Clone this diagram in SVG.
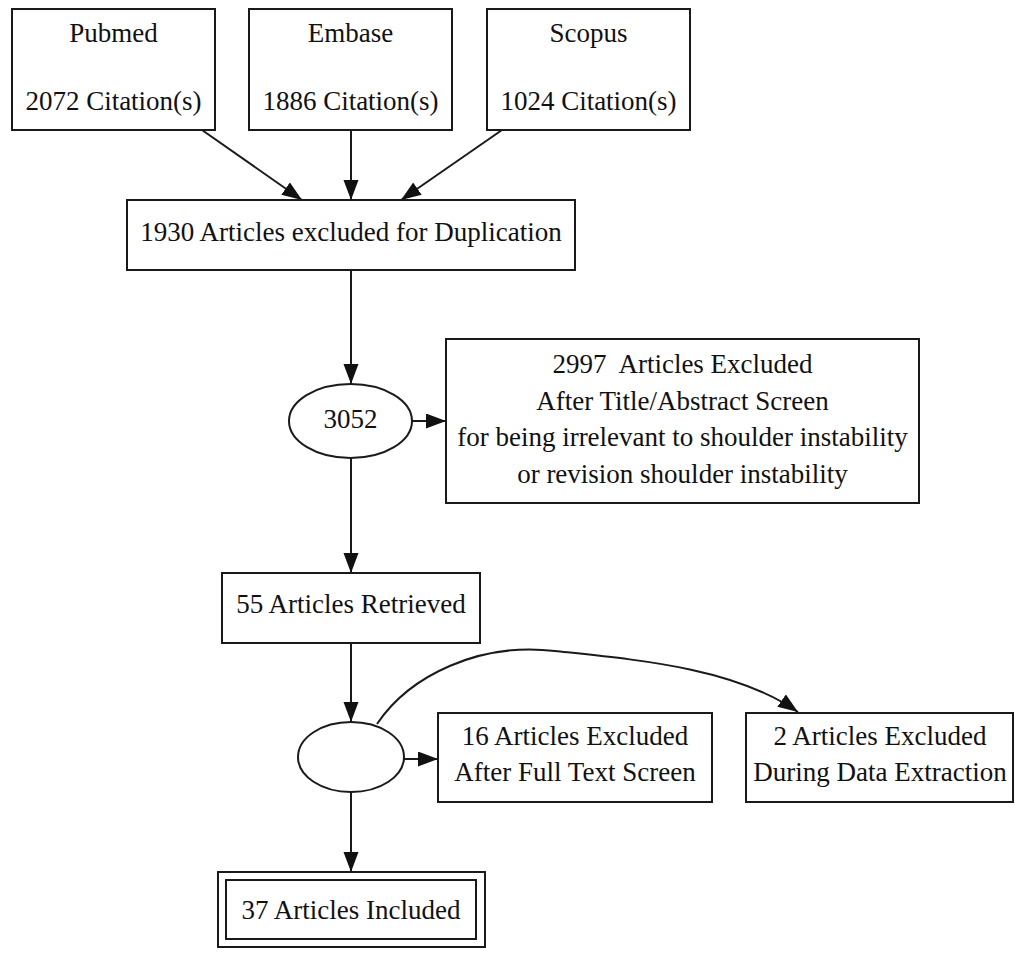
<svg xmlns="http://www.w3.org/2000/svg" width="1015" height="956" viewBox="0 0 1015 956">
<style>
.box{fill:#fff;stroke:#1a1a1a;stroke-width:2}
.lbl{font-family:"Liberation Serif","Times New Roman",serif;font-size:27px;fill:#111;text-anchor:middle}
.edge{fill:none;stroke:#1a1a1a;stroke-width:2;marker-end:url(#ah)}
</style>
<defs>
<marker id="ah" markerUnits="userSpaceOnUse" markerWidth="21" markerHeight="16" refX="20" refY="7.5" orient="auto">
<path d="M0,0 L20,7.5 L0,15 z" fill="#111"/>
</marker>
</defs>
<rect width="1015" height="956" fill="#fff"/>
<g id="connectors">
<path class="edge" d="M202,130 L302,200"/>
<path class="edge" d="M351,130 L351,200"/>
<path class="edge" d="M502,130 L401,200"/>
<path class="edge" d="M351,270 L351,384"/>
<path class="edge" d="M412,421 L446,421"/>
<path class="edge" d="M351,458 L351,573"/>
<path class="edge" d="M351,643 L351,722"/>
<path class="edge" d="M404,759 L438,759"/>
<path class="edge" d="M377,724 C410,675 480,642 555,651 C640,660 735,668 798,712"/>
<path class="edge" d="M351,792 L351,872"/>
</g>
<g id="pubmed">
<rect class="box" x="12" y="9" width="203" height="121"/>
<text class="lbl" x="113.5" y="42">Pubmed</text>
<text class="lbl" x="113.5" y="110">2072 Citation(s)</text>
</g>
<g id="embase">
<rect class="box" x="249" y="9" width="203" height="121"/>
<text class="lbl" x="350.5" y="42">Embase</text>
<text class="lbl" x="350.5" y="110">1886 Citation(s)</text>
</g>
<g id="scopus">
<rect class="box" x="487" y="9" width="203" height="121"/>
<text class="lbl" x="588.5" y="42">Scopus</text>
<text class="lbl" x="588.5" y="110">1024 Citation(s)</text>
</g>
<g id="duplication">
<rect class="box" x="127" y="200" width="448" height="70"/>
<text class="lbl" x="351" y="241">1930 Articles excluded for Duplication</text>
</g>
<g id="n3052">
<ellipse class="box" cx="350.5" cy="421" rx="61.5" ry="37"/>
<text class="lbl" x="350.5" y="428">3052</text>
</g>
<g id="excluded2997">
<rect class="box" x="446" y="339" width="473" height="164"/>
<text class="lbl" x="682.5" y="373" xml:space="preserve">2997  Articles Excluded</text>
<text class="lbl" x="682.5" y="409.5">After Title/Abstract Screen</text>
<text class="lbl" x="682.5" y="446">for being irrelevant to shoulder instability</text>
<text class="lbl" x="682.5" y="482.5">or revision shoulder instability</text>
</g>
<g id="retrieved">
<rect class="box" x="222" y="573" width="258" height="70"/>
<text class="lbl" x="351" y="613">55 Articles Retrieved</text>
</g>
<g id="split">
<ellipse class="box" cx="351" cy="757" rx="53" ry="35"/>
</g>
<g id="excluded16">
<rect class="box" x="438" y="713" width="274" height="89"/>
<text class="lbl" x="575" y="745">16 Articles Excluded</text>
<text class="lbl" x="575" y="781">After Full Text Screen</text>
</g>
<g id="excluded2">
<rect class="box" x="746" y="713" width="267" height="89"/>
<text class="lbl" x="880" y="745">2 Articles Excluded</text>
<text class="lbl" x="880" y="781">During Data Extraction</text>
</g>
<g id="included">
<rect class="box" x="218" y="872" width="267" height="75"/>
<rect class="box" x="226" y="880" width="250" height="59"/>
<text class="lbl" x="351" y="919">37 Articles Included</text>
</g>
</svg>
